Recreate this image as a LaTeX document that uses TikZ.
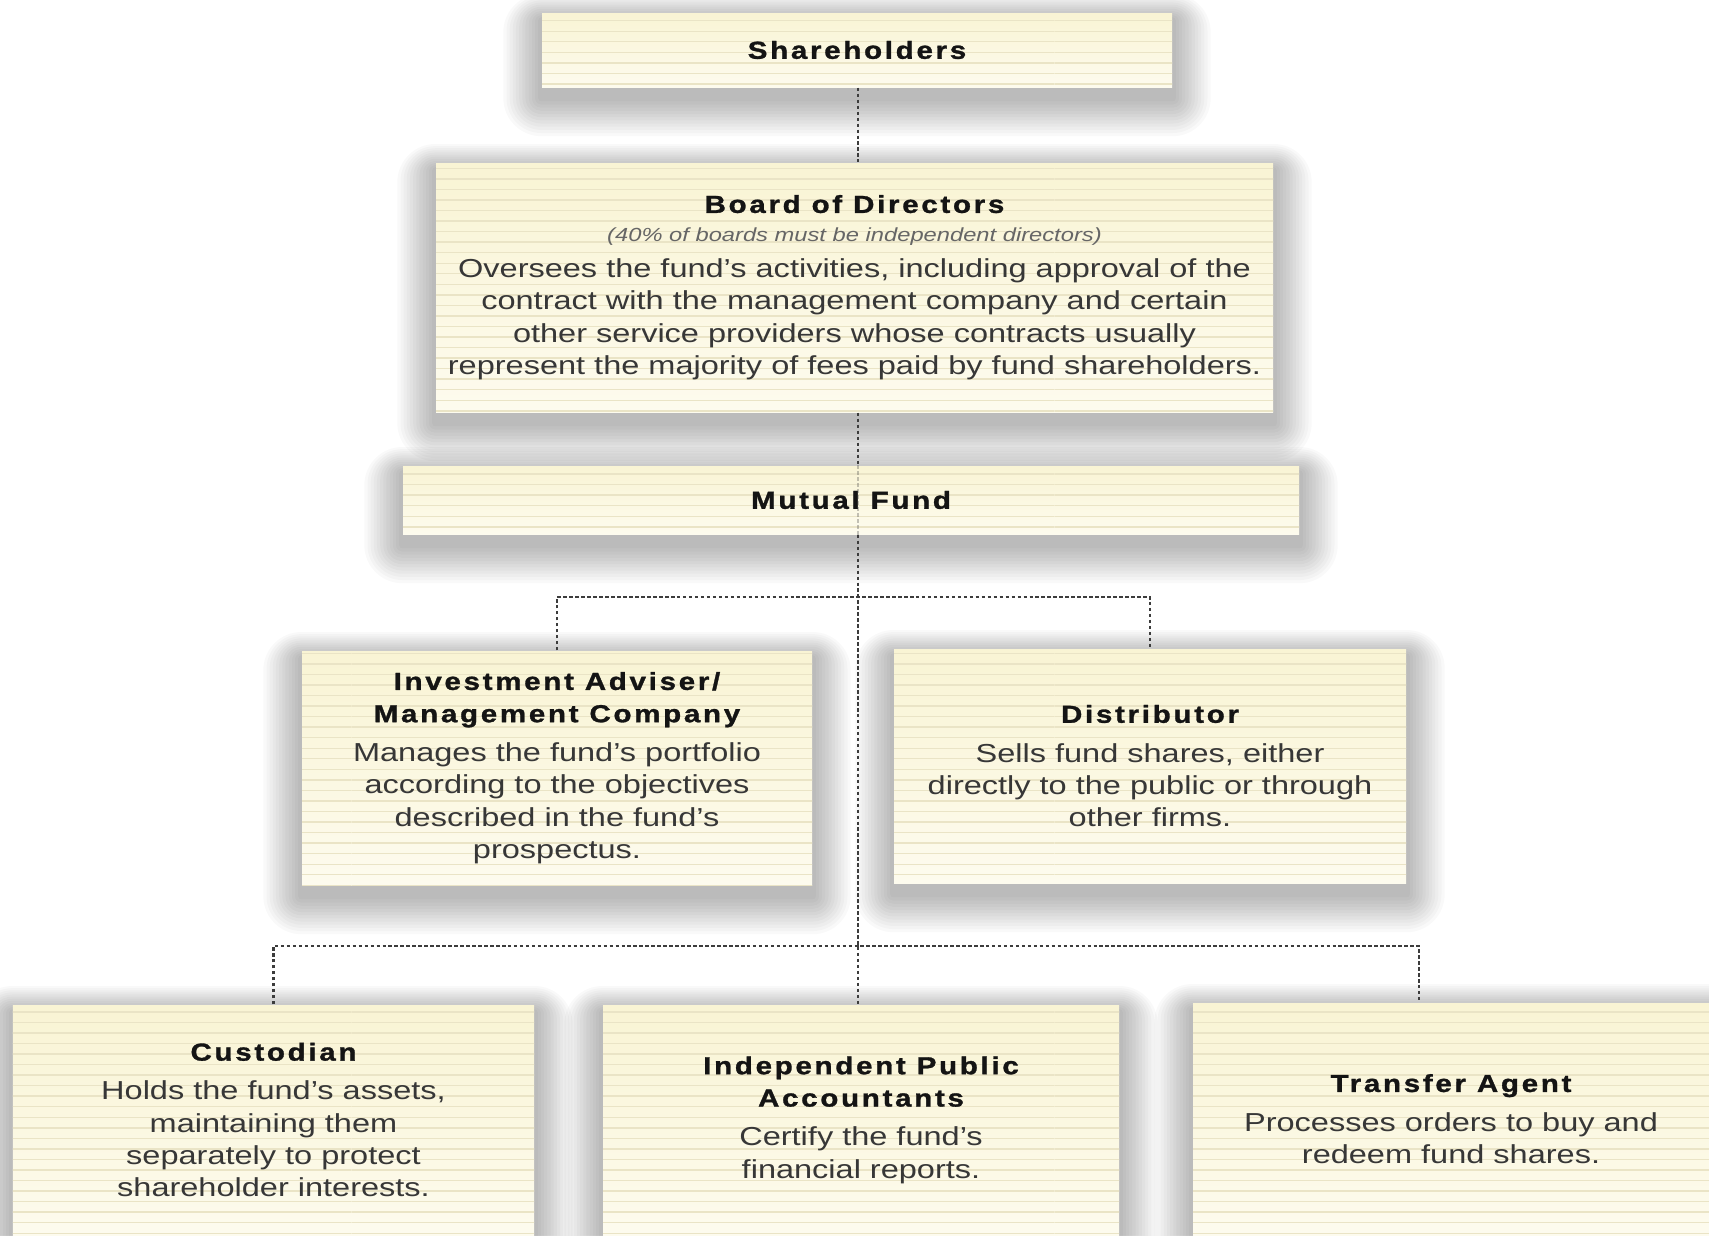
\documentclass[tikz,border=0pt]{standalone}
\usepackage{fontspec}
\setmainfont{Liberation Sans}[FakeStretch=1.25]
\newfontfamily\headfont{Liberation Sans}[FakeStretch=1.2,LetterSpace=11,FakeBold=1.2]
\usetikzlibrary{patterns,backgrounds}

\definecolor{cardtop}{RGB}{249,244,212}
\definecolor{cardbot}{RGB}{253,251,238}
\definecolor{stripe}{RGB}{234,228,198}
\definecolor{linkgray}{RGB}{60,60,60}
\definecolor{bodygray}{RGB}{55,55,55}

\newcommand{\cardtitle}[1]{{\headfont\bfseries\fontsize{7}{10}\selectfont\color{black!92}#1}}
\newcommand{\cardnote}[1]{{\itshape\fontsize{5.4}{7}\selectfont\color{black!60}#1}}

\tikzset{
  card/.style={shape=rectangle, inner sep=0pt, align=center,
    top color=cardtop, bottom color=cardbot,
    postaction={pattern=horizontal lines, pattern color=stripe},
    text=bodygray, font=\fontsize{7.4}{9.2}\selectfont},
  link/.style={draw=linkgray, line width=0.6pt, dash pattern=on 1pt off 0.7pt},
}

\begin{document}
\begin{tikzpicture}
        \useasboundingbox (0,0) rectangle (17.09,-12.35);
        \clip (0,0) rectangle (17.09,-12.35);
        \coordinate (spine) at (8.58,0);
        \node[card, minimum width=6.30cm, minimum height=0.74cm] (sh) at (8.57,-0.50) {\cardtitle{Shareholders}};
        \node[card, minimum width=8.37cm, minimum height=2.49cm] (board) at (8.545,-2.875) {\cardtitle{Board of Directors}\\[-1pt]
            \cardnote{(40\% of boards must be independent directors)}\\[1pt]
            Oversees the fund's activities, including approval of the\\
            contract with the management company and certain\\
            other service providers whose contracts usually\\
            represent the majority of fees paid by fund shareholders.};
        \node[card, minimum width=8.96cm, minimum height=0.68cm] (fund) at (8.51,-5.00) {\cardtitle{Mutual Fund}};
        \node[card, minimum width=5.10cm, minimum height=2.34cm] (adviser) at (5.57,-7.68) {\cardtitle{Investment Adviser/}\\
            \cardtitle{Management Company}\\[2pt]
            Manages the fund's portfolio\\
            according to the objectives\\
            described in the fund's\\
            prospectus.};
        \node[card, minimum width=5.12cm, minimum height=2.34cm] (dist) at (11.50,-7.66) {\cardtitle{Distributor}\\[2pt]
            Sells fund shares, either\\
            directly to the public or through\\
            other firms.};
        \node[card, minimum width=5.21cm, minimum height=2.30cm] (cust) at (2.735,-11.20) {\cardtitle{Custodian}\\[2pt]
            Holds the fund's assets,\\
            maintaining them\\
            separately to protect\\
            shareholder interests.};
        \node[card, minimum width=5.16cm, minimum height=2.30cm] (acct) at (8.61,-11.20) {\cardtitle{Independent Public}\\
            \cardtitle{Accountants}\\[2pt]
            Certify the fund's\\
            financial reports.};
        \node[card, minimum width=5.16cm, minimum height=2.32cm] (trans) at (14.51,-11.19) {\cardtitle{Transfer Agent}\\[2pt]
            Processes orders to buy and\\
            redeem fund shares.};
        % soft shadows behind the cards
        \begin{scope}[on background layer]
            \fill[white] (0,0) rectangle (17.09,-12.35);
            \foreach \n in {sh,board,fund,adviser,dist,cust,acct,trans}
                \foreach \w in {1,...,12}
                    \fill[black, opacity=0.022, rounded corners=\w*0.9pt]
                        ([shift={(-\w*0.9pt,-\w*0.9pt-3pt)}]\n.south west) rectangle ([shift={(\w*0.9pt,\w*0.6pt-2pt)}]\n.north east);
        \end{scope}
        \coordinate (split1) at (8.58,-5.97);
        \coordinate (split2) at (8.58,-9.46);
        \coordinate (drop) at (14.19,-9.46);
        \path (spine |- sh.south) edge[link] (spine |- board.north);
        \path (spine |- board.south) edge[link] (spine |- fund.north);
        \path (spine |- fund.north) edge[link, opacity=0.3] (spine |- fund.south);
        \path (spine |- fund.south) edge[link] (spine |- acct.north);
        \draw[link] (adviser.north) |- (split1) -| (dist.north);
        \draw[link] (cust.north) |- (split2) -- (drop) -- (drop |- trans.north);
    \end{tikzpicture}
\end{document}
